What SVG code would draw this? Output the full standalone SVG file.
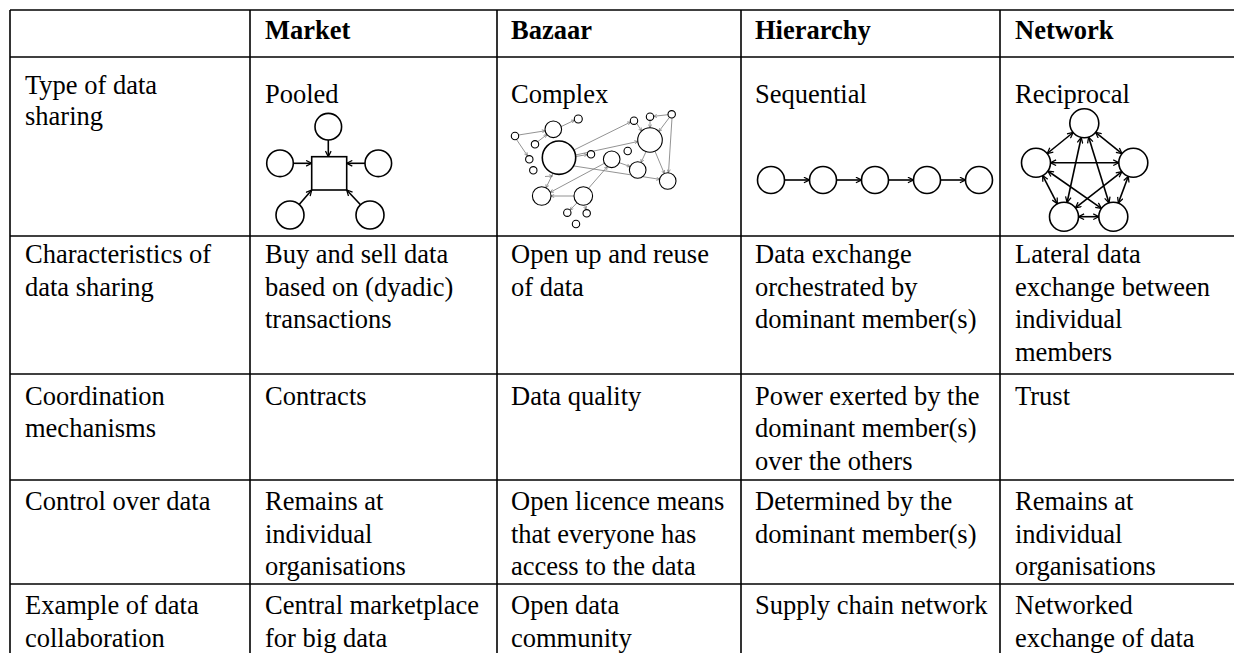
<svg xmlns="http://www.w3.org/2000/svg" width="1234" height="653" viewBox="0 0 1234 653">
  <style>
    .t { font-family: "Liberation Serif", "Times New Roman", serif; font-size: 26.5px; fill: #000; }
    .b { font-weight: bold; }
    .grid { stroke: #000; stroke-width: 1.6; fill: none; }
    .nd { fill: #fff; stroke: #000; stroke-width: 1.6; }
    .sm { fill: #fff; stroke: #000; stroke-width: 1.1; }
    .ed { stroke: #000; stroke-width: 1.6; fill: none; }
    .ed1 { stroke: #000; stroke-width: 1.6; fill: none; marker-end: url(#ah); }
    .ed2 { stroke: #000; stroke-width: 1.6; fill: none; marker-start: url(#ah); marker-end: url(#ah); }
    .thin { stroke: #777; stroke-width: 0.8; fill: none; marker-end: url(#ahs); }
  </style>
  <defs>
    <marker id="ah" viewBox="0 0 10 10" refX="9" refY="5" markerWidth="7" markerHeight="7" markerUnits="userSpaceOnUse" orient="auto-start-reverse">
      <path d="M1,1 L9,5 L1,9" fill="none" stroke="#000" stroke-width="1.8"/>
    </marker>
    <marker id="ahs" viewBox="0 0 10 10" refX="9" refY="5" markerWidth="4" markerHeight="4" markerUnits="userSpaceOnUse" orient="auto">
      <path d="M1,1 L9,5 L1,9" fill="none" stroke="#666" stroke-width="1.5"/>
    </marker>
  </defs>

  <rect width="1234" height="653" fill="#fff"/>

  <!-- table rules -->
  <g id="grid" class="grid">
    <line x1="10" y1="10" x2="1234" y2="10"/>
    <line x1="10" y1="57" x2="1234" y2="57"/>
    <line x1="10" y1="236" x2="1234" y2="236"/>
    <line x1="10" y1="374" x2="1234" y2="374"/>
    <line x1="10" y1="480" x2="1234" y2="480"/>
    <line x1="10" y1="584" x2="1234" y2="584"/>
    <line x1="10" y1="10" x2="10" y2="653"/>
    <line x1="250" y1="10" x2="250" y2="653"/>
    <line x1="497" y1="10" x2="497" y2="653"/>
    <line x1="741" y1="10" x2="741" y2="653"/>
    <line x1="1000" y1="10" x2="1000" y2="653"/>
  </g>

  <!-- header row -->
  <g id="header">
    <text class="t b" x="265" y="39">Market</text>
    <text class="t b" x="511" y="39">Bazaar</text>
    <text class="t b" x="755" y="39">Hierarchy</text>
    <text class="t b" x="1015" y="39">Network</text>
  </g>

  <!-- row 1: type of data sharing -->
  <g id="row-type">
    <text class="t" x="25" y="94">Type of data<tspan x="25" y="125">sharing</tspan></text>
    <text class="t" x="265" y="103">Pooled</text>
    <text class="t" x="511" y="103">Complex</text>
    <text class="t" x="755" y="103">Sequential</text>
    <text class="t" x="1015" y="103">Reciprocal</text>
  </g>

  <!-- pooled: four members feeding a central pool -->
  <g id="pooled">
    <g class="connectors">
      <line class="ed1" x1="328.3" y1="140" x2="328.3" y2="156.7"/>
      <line class="ed1" x1="293.3" y1="163.3" x2="311.7" y2="163.3"/>
      <line class="ed1" x1="365" y1="163.3" x2="346.7" y2="163.3"/>
      <line class="ed1" x1="299.2" y1="204.4" x2="311.7" y2="190"/>
      <line class="ed1" x1="360.5" y1="204.8" x2="346.7" y2="190"/>
    </g>
    <rect class="nd" x="311.7" y="156.7" width="35" height="33.3"/>
    <circle class="nd" cx="328.3" cy="126.7" r="13.3"/>
    <circle class="nd" cx="280" cy="163.3" r="13.3"/>
    <circle class="nd" cx="378.3" cy="163.3" r="13.3"/>
    <circle class="nd" cx="290" cy="215" r="14"/>
    <circle class="nd" cx="370" cy="215" r="14"/>
  </g>

  <!-- complex: loose web of many members -->
  <g id="complex">
    <g class="connectors">
      <line class="thin" x1="518.5" y1="135" x2="545.2" y2="130.8"/>
      <line class="thin" x1="516.5" y1="139.5" x2="527.5" y2="155.8"/>
      <line class="thin" x1="537.8" y1="141.6" x2="547" y2="134.5"/>
      <line class="thin" x1="561.3" y1="126.5" x2="574.5" y2="120.2"/>
      <line class="thin" x1="575.5" y1="155" x2="637.8" y2="141.5"/>
      <line class="thin" x1="574" y1="150" x2="630.6" y2="122"/>
      <line class="thin" x1="575.7" y1="156.5" x2="587.3" y2="154.6"/>
      <line class="thin" x1="574" y1="166" x2="659.6" y2="179.3"/>
      <line class="thin" x1="553" y1="173.3" x2="546" y2="187.8"/>
      <line class="thin" x1="545" y1="176.5" x2="552.5" y2="176"/>
      <line class="thin" x1="604" y1="163.5" x2="550.3" y2="192.3"/>
      <line class="thin" x1="588.5" y1="188.3" x2="607.5" y2="166.5"/>
      <line class="thin" x1="574" y1="196" x2="551" y2="196"/>
      <line class="thin" x1="577" y1="202.8" x2="570" y2="210"/>
      <line class="thin" x1="584.8" y1="205.5" x2="586" y2="209.6"/>
      <line class="thin" x1="619.3" y1="162.7" x2="630" y2="166.5"/>
      <line class="thin" x1="646" y1="151.7" x2="641" y2="162.5"/>
      <line class="thin" x1="636.8" y1="123.3" x2="641.5" y2="131"/>
      <line class="thin" x1="650" y1="120.4" x2="650" y2="127.7"/>
      <line class="thin" x1="668" y1="114.7" x2="653.7" y2="116.3"/>
      <line class="thin" x1="669.5" y1="117.3" x2="658.8" y2="131.5"/>
      <line class="thin" x1="672" y1="118" x2="668.5" y2="172.7"/>
      <line class="thin" x1="655" y1="151.3" x2="664.3" y2="173.5"/>
    </g>
    <circle class="nd" cx="559" cy="157.7" r="16.7"/>
    <circle class="sm" cx="553.3" cy="129.3" r="8.3"/>
    <circle class="sm" cx="578.3" cy="119" r="4"/>
    <circle class="sm" cx="515" cy="136" r="3.7"/>
    <circle class="sm" cx="535" cy="144.3" r="3.7"/>
    <circle class="sm" cx="529.3" cy="159.3" r="3.7"/>
    <circle class="sm" cx="533.3" cy="170.3" r="3.7"/>
    <circle class="sm" cx="591" cy="154.3" r="3.7"/>
    <circle class="sm" cx="611.7" cy="159.3" r="8.3"/>
    <circle class="sm" cx="627.7" cy="151" r="3.7"/>
    <circle class="sm" cx="650" cy="140" r="12.3"/>
    <circle class="sm" cx="634" cy="120.7" r="3.7"/>
    <circle class="sm" cx="650" cy="116.7" r="3.7"/>
    <circle class="sm" cx="671.7" cy="114.3" r="3.7"/>
    <circle class="sm" cx="637.7" cy="170" r="8.3"/>
    <circle class="sm" cx="667.7" cy="181" r="8.3"/>
    <circle class="sm" cx="541.7" cy="196" r="9.3"/>
    <circle class="sm" cx="583.3" cy="196" r="9.3"/>
    <circle class="sm" cx="567.3" cy="212.7" r="3.7"/>
    <circle class="sm" cx="586.7" cy="213.3" r="3.7"/>
    <circle class="sm" cx="576" cy="224" r="3.7"/>
  </g>

  <!-- sequential: a chain of members -->
  <g id="sequential">
    <g class="connectors">
      <line class="ed1" x1="784.5" y1="180" x2="809.5" y2="180"/>
      <line class="ed1" x1="836.5" y1="180" x2="861.5" y2="180"/>
      <line class="ed1" x1="888.5" y1="180" x2="913.5" y2="180"/>
      <line class="ed1" x1="940.5" y1="180" x2="965.5" y2="180"/>
    </g>
    <circle class="nd" cx="771" cy="180" r="13.5"/>
    <circle class="nd" cx="823" cy="180" r="13.5"/>
    <circle class="nd" cx="875" cy="180" r="13.5"/>
    <circle class="nd" cx="927" cy="180" r="13.5"/>
    <circle class="nd" cx="979" cy="180" r="13.5"/>
  </g>

  <!-- reciprocal: every member linked both ways -->
  <g id="reciprocal">
    <g class="connectors">
      <line class="ed2" x1="1073.1" y1="132.5" x2="1047.2" y2="153.5"/>
      <line class="ed2" x1="1095.6" y1="132.4" x2="1122" y2="153.6"/>
      <line class="ed2" x1="1050.5" y1="162.7" x2="1118.8" y2="162.7"/>
      <line class="ed2" x1="1081.2" y1="137.5" x2="1067.1" y2="202.5"/>
      <line class="ed2" x1="1088.6" y1="137.1" x2="1109" y2="202.9"/>
      <line class="ed2" x1="1042.7" y1="175.6" x2="1057.3" y2="203.8"/>
      <line class="ed2" x1="1128.3" y1="176.3" x2="1118.3" y2="203.1"/>
      <line class="ed2" x1="1047.9" y1="171" x2="1101.4" y2="208.4"/>
      <line class="ed2" x1="1121.9" y1="171.6" x2="1075.4" y2="207.8"/>
      <line class="ed2" x1="1078.5" y1="216.7" x2="1098.8" y2="216.7"/>
    </g>
    <circle class="nd" cx="1084.3" cy="123.3" r="14.5"/>
    <circle class="nd" cx="1036" cy="162.7" r="14.5"/>
    <circle class="nd" cx="1133.3" cy="162.7" r="14.5"/>
    <circle class="nd" cx="1064" cy="216.7" r="14.5"/>
    <circle class="nd" cx="1113.3" cy="216.7" r="14.5"/>
  </g>

  <!-- row 2: characteristics -->
  <g id="row-characteristics">
    <text class="t" x="25" y="263">Characteristics of<tspan x="25" y="295.5">data sharing</tspan></text>
    <text class="t" x="265" y="263">Buy and sell data<tspan x="265" y="295.5">based on (dyadic)</tspan><tspan x="265" y="328">transactions</tspan></text>
    <text class="t" x="511" y="263">Open up and reuse<tspan x="511" y="295.5">of data</tspan></text>
    <text class="t" x="755" y="263">Data exchange<tspan x="755" y="295.5">orchestrated by</tspan><tspan x="755" y="328">dominant member(s)</tspan></text>
    <text class="t" x="1015" y="263">Lateral data<tspan x="1015" y="295.5">exchange between</tspan><tspan x="1015" y="328">individual</tspan><tspan x="1015" y="360.5">members</tspan></text>
  </g>

  <!-- row 3: coordination -->
  <g id="row-coordination">
    <text class="t" x="25" y="404.5">Coordination<tspan x="25" y="437">mechanisms</tspan></text>
    <text class="t" x="265" y="404.5">Contracts</text>
    <text class="t" x="511" y="404.5">Data quality</text>
    <text class="t" x="755" y="404.5">Power exerted by the<tspan x="755" y="437">dominant member(s)</tspan><tspan x="755" y="469.5">over the others</tspan></text>
    <text class="t" x="1015" y="404.5">Trust</text>
  </g>

  <!-- row 4: control -->
  <g id="row-control">
    <text class="t" x="25" y="510">Control over data</text>
    <text class="t" x="265" y="510">Remains at<tspan x="265" y="542.5">individual</tspan><tspan x="265" y="575">organisations</tspan></text>
    <text class="t" x="511" y="510">Open licence means<tspan x="511" y="542.5">that everyone has</tspan><tspan x="511" y="575">access to the data</tspan></text>
    <text class="t" x="755" y="510">Determined by the<tspan x="755" y="542.5">dominant member(s)</tspan></text>
    <text class="t" x="1015" y="510">Remains at<tspan x="1015" y="542.5">individual</tspan><tspan x="1015" y="575">organisations</tspan></text>
  </g>

  <!-- row 5: examples -->
  <g id="row-example">
    <text class="t" x="25" y="614">Example of data<tspan x="25" y="646.5">collaboration</tspan></text>
    <text class="t" x="265" y="614">Central marketplace<tspan x="265" y="646.5">for big data</tspan></text>
    <text class="t" x="511" y="614">Open data<tspan x="511" y="646.5">community</tspan></text>
    <text class="t" x="755" y="614">Supply chain network</text>
    <text class="t" x="1015" y="614">Networked<tspan x="1015" y="646.5">exchange of data</tspan></text>
  </g>
</svg>
